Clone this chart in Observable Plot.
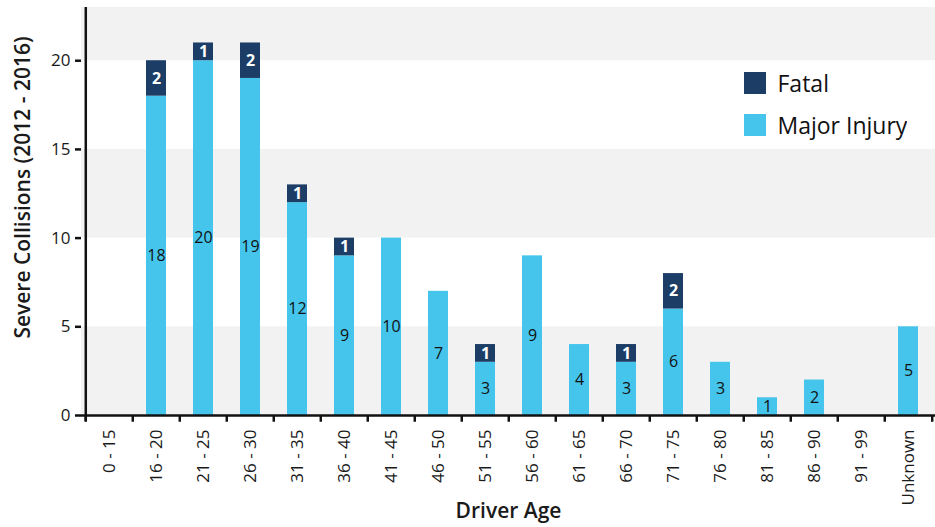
<!DOCTYPE html>
<html>
<head>
<meta charset="utf-8">
<script src="https://cdn.jsdelivr.net/npm/d3@7"></script>
<script src="https://cdn.jsdelivr.net/npm/@observablehq/plot@0.6"></script>
<style>
  html, body { margin: 0; padding: 0; background: #fff; }
  #chart { position: relative; width: 935px; height: 527px; font-family: "Open Sans", "Noto Sans", sans-serif; }
  #legend { position: absolute; left: 744px; top: 67px; }
  #legend [class$="-swatch"] { padding-bottom: 10px !important; }
</style>
</head>
<body>
<div id="chart"><div id="legend"></div></div>
<script>
// Driver age groups along the x axis
const ages = ["0 - 15", "16 - 20", "21 - 25", "26 - 30", "31 - 35", "36 - 40", "41 - 45", "46 - 50",
  "51 - 55", "56 - 60", "61 - 65", "66 - 70", "71 - 75", "76 - 80", "81 - 85", "86 - 90", "91 - 99", "Unknown"];
// Severe collisions 2012 - 2016, by severity
const majorInjury = [0, 18, 20, 19, 12, 9, 10, 7, 3, 9, 4, 3, 6, 3, 1, 2, 0, 5];
const fatal = [0, 2, 1, 2, 1, 1, 0, 0, 1, 0, 0, 1, 2, 0, 0, 0, 0, 0];
const severities = ["Major Injury", "Fatal"];
const yTicks = [0, 5, 10, 15, 20];
// alternating shaded bands behind the bars
const shadedBands = [[0, 5], [10, 15], [20, 23]];

const rows = [];
ages.forEach((age, i) => {
  rows.push({age, type: "Major Injury", value: majorInjury[i]});
  rows.push({age, type: "Fatal", value: fatal[i]});
});

const width = 935, height = 527, marginLeft = 81, marginRight = 0;
const halfStep = (width - marginLeft - marginRight) / ages.length / 2;
const colorScale = {domain: ["Fatal", "Major Injury"], range: ["#1c3d66", "#45c5eb"]};
const font = "'Open Sans', 'Noto Sans', sans-serif";

// value labels centred in each stacked segment; only one severity per mark
const labelOf = type => Plot.stackY({
  x: "age", y: "value", z: "type", order: severities,
  text: d => (d.type === type && d.value > 0) ? String(d.value) : null
});

const plot = Plot.plot({
  width, height,
  marginLeft, marginRight,
  marginTop: 7, marginBottom: 112,
  style: {fontFamily: font, fontSize: "16px", color: "#1a1a1a"},
  x: {domain: ages, paddingInner: 0.58, paddingOuter: 0.29, label: null},
  y: {domain: [0, 23], label: null},
  color: colorScale,
  marks: [
    Plot.rect(shadedBands, {y1: d => d[0], y2: d => d[1], fill: "#f2f2f2"}),
    Plot.barY(rows, {x: "age", y: "value", fill: "type", order: severities}),
    Plot.text(rows, {...labelOf("Major Injury"), fill: "#111", fontSize: 16}),
    Plot.text(rows, {...labelOf("Fatal"), fill: "#fff", fontSize: 16, fontWeight: "bold"}),
    // axis lines and boundary ticks between age groups
    Plot.ruleY([0], {stroke: "#111", strokeWidth: 2.5}),
    Plot.ruleX([ages[0]], {x: d => d, y1: -0.35, y2: 23, dx: -halfStep, stroke: "#111", strokeWidth: 2.5}),
    Plot.ruleX(ages, {x: d => d, y1: 0, y2: -0.38, dx: -halfStep, stroke: "#111", strokeWidth: 2.5}),
    Plot.ruleX([ages[ages.length - 1]], {x: d => d, y1: 0, y2: -0.38, dx: halfStep, stroke: "#111", strokeWidth: 2.5}),
    Plot.axisY({ticks: yTicks, tickSize: 6, tickPadding: 5, stroke: "#111", strokeWidth: 2.5, fontSize: 17,
      label: "Severe Collisions (2012 - 2016)", labelAnchor: "center", labelOffset: 66, labelArrow: false}),
    Plot.axisX({tickSize: 0, tickPadding: 14, tickRotate: -90, fontSize: 17,
      label: "Driver Age", labelAnchor: "center", labelOffset: 102, labelArrow: false})
  ]
});

// axis titles: larger semibold text
plot.querySelectorAll("[aria-label='y-axis label'] text, [aria-label='x-axis label'] text").forEach(t => {
  t.setAttribute("font-size", "21");
  t.setAttribute("font-weight", "600");
  t.style.fontSize = "21px";
});
// lift the vertical title a little above the plot's middle
const yTitle = plot.querySelector("[aria-label='y-axis label']");
if (yTitle) {
  const tr = yTitle.getAttribute("transform") || "";
  yTitle.setAttribute("transform", `translate(0,-24) ${tr}`);
}

const chart = document.getElementById("chart");
chart.insertBefore(plot, chart.firstChild);

const legend = Plot.legend({
  color: colorScale, legend: "swatches", columns: 1, swatchSize: 22,
  style: {fontFamily: font, fontSize: "23px", color: "#111", background: "transparent"}
});
document.getElementById("legend").appendChild(legend);
</script>
</body>
</html>
